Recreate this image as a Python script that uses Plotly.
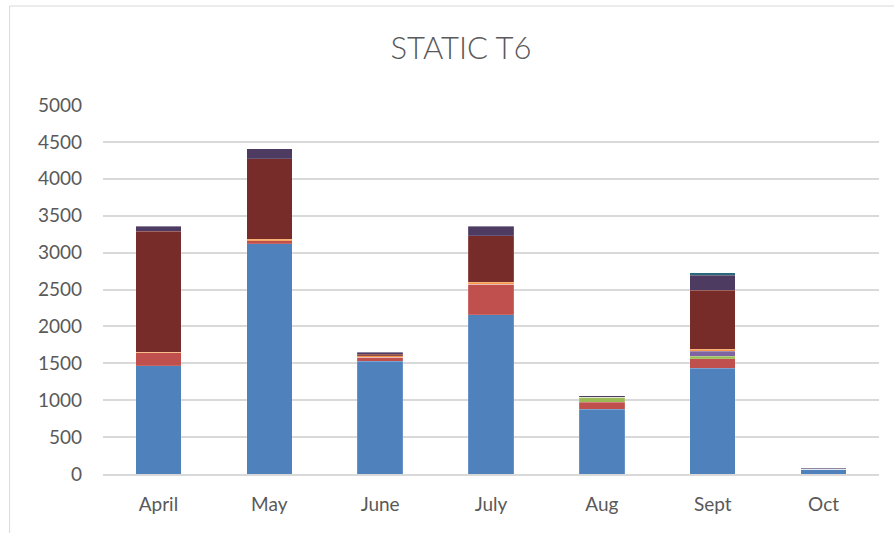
import plotly.graph_objects as go

months = ["April", "May", "June", "July", "Aug", "Sept", "Oct"]

# stacked series, bottom to top
blue        = [1470, 3120, 1530, 2160, 880, 1430, 65]
red         = [170, 40, 55, 410, 95, 130, 0]
green       = [0, 0, 0, 0, 65, 35, 0]
purple      = [0, 0, 0, 0, 0, 70, 0]
orange      = [10, 20, 20, 30, 0, 25, 0]
dark_red    = [1640, 1090, 20, 630, 0, 800, 0]
dark_purple = [70, 135, 25, 130, 20, 200, 15]
dark_teal   = [0, 0, 0, 0, 0, 35, 0]

y_ticks = [0, 500, 1000, 1500, 2000, 2500, 3000, 3500, 4000, 4500, 5000]

series = [
    ("Series 1", blue, "#4F81BD"),
    ("Series 2", red, "#C0504D"),
    ("Series 3", green, "#9BBB59"),
    ("Series 4", purple, "#8064A2"),
    ("Series 6", orange, "#F79646"),
    ("Series 8", dark_red, "#772C2A"),
    ("Series 10", dark_purple, "#4D3B62"),
    ("Series 11", dark_teal, "#276A7C"),
]

fig = go.Figure()
for name, vals, color in series:
    fig.add_trace(go.Bar(
        x=months, y=vals, name=name,
        marker=dict(color=color, line=dict(color="rgba(255,255,255,0.3)", width=0.5)),
    ))

W, H = 894, 533
L, R, T, B = 102.5, 879.5, 105, 474

def px_x(p):
    return (p - L) / (R - L)

def px_y(p):
    return (B - p) / (B - T)

fig.update_layout(
    width=W, height=H,
    margin=dict(l=L, r=W - R, t=T, b=H - B, pad=0),
    barmode="stack",
    bargap=0.59,
    showlegend=False,
    paper_bgcolor="white",
    plot_bgcolor="white",
    font=dict(family="Lato, Open Sans, sans-serif", color="#595959"),
    title=dict(
        text="STATIC T6",
        xref="container", x=461 / W, xanchor="center",
        yref="container", y=1 - 48 / H, yanchor="middle",
        font=dict(size=31, color="#595959", family="Lato, Open Sans, sans-serif", weight=300),
    ),
    xaxis=dict(
        showgrid=False,
        showline=True, linecolor="#d9d9d9", linewidth=1.5,
        tickfont=dict(size=19, color="#595959"),
        ticks="",
        ticklabelstandoff=12,
    ),
    yaxis=dict(
        range=[0, 5000],
        tickvals=y_ticks,
        showgrid=True, gridcolor="#d9d9d9", gridwidth=1.5,
        zeroline=False,
        showline=False,
        tickfont=dict(size=19, color="#595959"),
        ticks="",
        ticklabelstandoff=20,
    ),
    shapes=[
        dict(
            type="rect", xref="paper", yref="paper",
            x0=px_x(9), x1=px_x(920), y0=px_y(560), y1=px_y(6),
            line=dict(color="#d9d9d9", width=1), fillcolor="rgba(0,0,0,0)",
            layer="below",
        )
    ],
)

fig.write_html("out.html")
